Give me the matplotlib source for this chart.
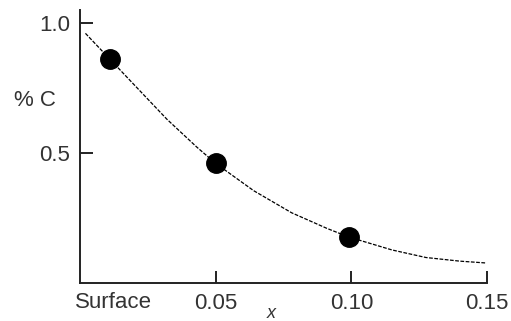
import numpy as np
import matplotlib
matplotlib.use("Agg")
import matplotlib.pyplot as plt

plt.rcParams["font.family"] = ["Liberation Sans", "DejaVu Sans"]

# measured points (depth from surface, % C)
pts_x = [0.011, 0.05, 0.099]
pts_y = [0.86, 0.46, 0.177]

# dashed fit curve
curve_x = [0.002, 0.0147, 0.032, 0.043, 0.05, 0.064, 0.078, 0.091, 0.099,
           0.115, 0.1275, 0.14, 0.1496]
curve_y = [0.96, 0.82, 0.63, 0.523, 0.46, 0.355, 0.27, 0.21, 0.177,
           0.127, 0.098, 0.084, 0.077]

xticks = [0.05, 0.10, 0.15]
xticklabels = ["0.05", "0.10", "0.15"]
yticks = [0.5, 1.0]
yticklabels = ["0.5", "1.0"]

txt = "#333333"
fs = 16

fig = plt.figure(figsize=(5.11, 3.21), dpi=100)
ax = fig.add_axes([0.1566, 0.1184, 0.953 - 0.1566, 0.969 - 0.1184])

ax.plot(curve_x, curve_y, color="black", linewidth=0.9, dashes=(3, 1.2))
ax.plot(pts_x, pts_y, "o", color="black", markersize=14, zorder=3)

ax.set_xlim(0, 0.15)
ax.set_ylim(0, 1.05)
for s in ["top", "right"]:
    ax.spines[s].set_visible(False)
for s in ["left", "bottom"]:
    ax.spines[s].set_linewidth(1.4)
    ax.spines[s].set_color("#222222")

ax.set_xticks(xticks)
ax.set_xticklabels(xticklabels)
ax.set_yticks(yticks)
ax.set_yticklabels(yticklabels)
ax.tick_params(direction="in", length=9, width=1.4, color="#222222",
               labelsize=fs, labelcolor=txt, pad=7)

ax.text(-0.002, -0.035, "Surface", ha="left", va="top", fontsize=fs, color=txt)
ax.text(0.0705, -0.085, "x", ha="center", va="top", fontsize=13,
        style="italic", color=txt)
ax.text(-0.0165, 0.70, "% C", ha="center", va="center", fontsize=fs, color=txt)

fig.savefig("out.png", dpi=100)
